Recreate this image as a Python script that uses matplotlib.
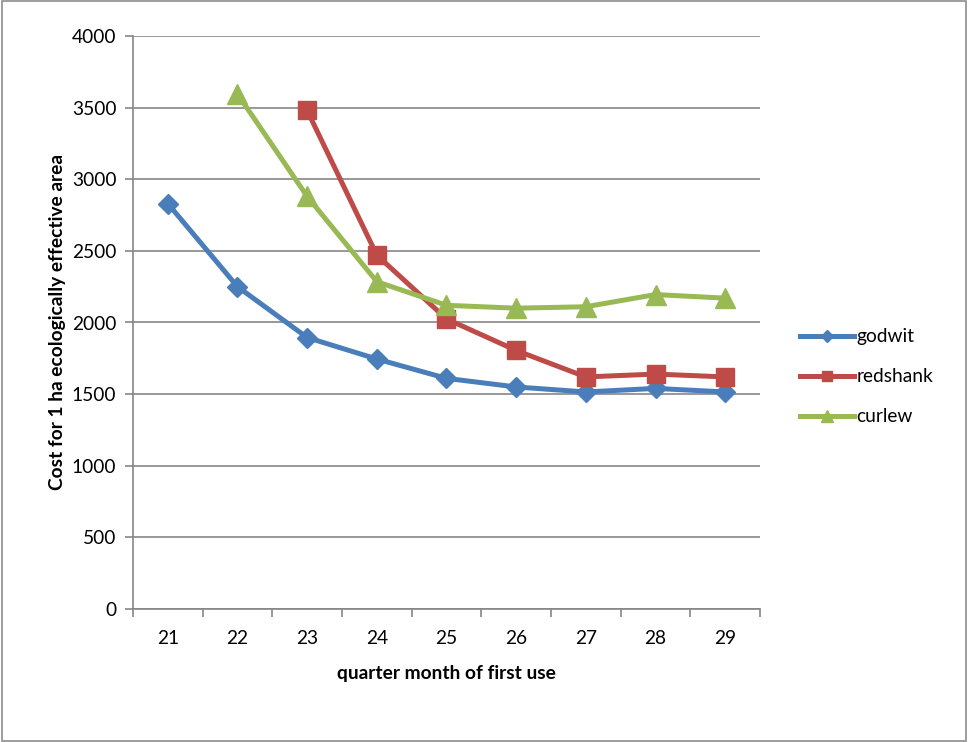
import matplotlib
matplotlib.use("Agg")
import matplotlib.pyplot as plt
from matplotlib.patches import Rectangle
import numpy as np

# quarter month of first use
quarters = [21, 22, 23, 24, 25, 26, 27, 28, 29]

# cost per hectare of ecologically effective area (None = no value)
godwit = [2830, 2250, 1895, 1745, 1610, 1550, 1515, 1540, 1515]
redshank = [None, None, 3480, 2470, 2025, 1805, 1620, 1640, 1620]
curlew = [None, 3595, 2880, 2285, 2120, 2100, 2110, 2195, 2170]

y_ticks = [0, 500, 1000, 1500, 2000, 2500, 3000, 3500, 4000]

plt.rcParams['font.family'] = ['Lato', 'DejaVu Sans']
FS = 13.8

fig = plt.figure(figsize=(9.68, 7.42), dpi=100)
fig.patches.append(Rectangle((0.002, 0.002), 0.996, 0.996, transform=fig.transFigure,
                             fill=False, edgecolor='#8c8c8c', linewidth=1.2))

ax = fig.add_axes([133 / 968, 1 - 609 / 742, (760 - 133) / 968, (609 - 36) / 742])

x = np.arange(len(quarters))

def to_arr(vals):
    return np.array([np.nan if v is None else v for v in vals], dtype=float)

ax.plot(x, to_arr(godwit), color='#4A7EBB', lw=3.6, marker='D', ms=10.5,
        label='godwit', solid_joinstyle='round')
ax.plot(x, to_arr(redshank), color='#BE4B48', lw=3.6, marker='s', ms=13,
        label='redshank', solid_joinstyle='round')
ax.plot(x, to_arr(curlew), color='#98B954', lw=3.6, marker='^', ms=15,
        label='curlew', solid_joinstyle='round')

ax.set_xlim(-0.5, len(quarters) - 0.5)
ax.set_ylim(0, 4000)
ax.set_yticks(y_ticks)
ax.set_yticklabels([str(v) for v in y_ticks], fontsize=FS)
ax.set_xticks(x)
ax.set_xticklabels([str(q) for q in quarters], fontsize=FS)
ax.set_xticks(np.arange(-0.5, len(quarters), 1), minor=True)
ax.tick_params(axis='x', which='major', length=0, pad=15)
ax.tick_params(axis='x', which='minor', length=6, color='#868686', width=1.2)
ax.tick_params(axis='y', which='major', length=6, color='#868686', width=1.2, pad=6)

ax.grid(axis='y', color='#868686', lw=1.2)
ax.set_axisbelow(True)
for s in ['top', 'right']:
    ax.spines[s].set_visible(False)
for s in ['left', 'bottom']:
    ax.spines[s].set_color('#868686')
    ax.spines[s].set_linewidth(1.2)

ax.set_xlabel('quarter month of first use', fontsize=FS, fontweight='bold', labelpad=13)
ax.set_ylabel('Cost for 1 ha ecologically effective area', fontsize=FS,
              fontweight='bold', labelpad=4)

leg = ax.legend(loc='center left', bbox_to_anchor=(1.064, 0.405), frameon=False,
                fontsize=FS, handlelength=2.8, labelspacing=1.2, handletextpad=0.15,
                borderpad=0, borderaxespad=0, markerscale=0.6)

fig.savefig('out.png', dpi=100)
